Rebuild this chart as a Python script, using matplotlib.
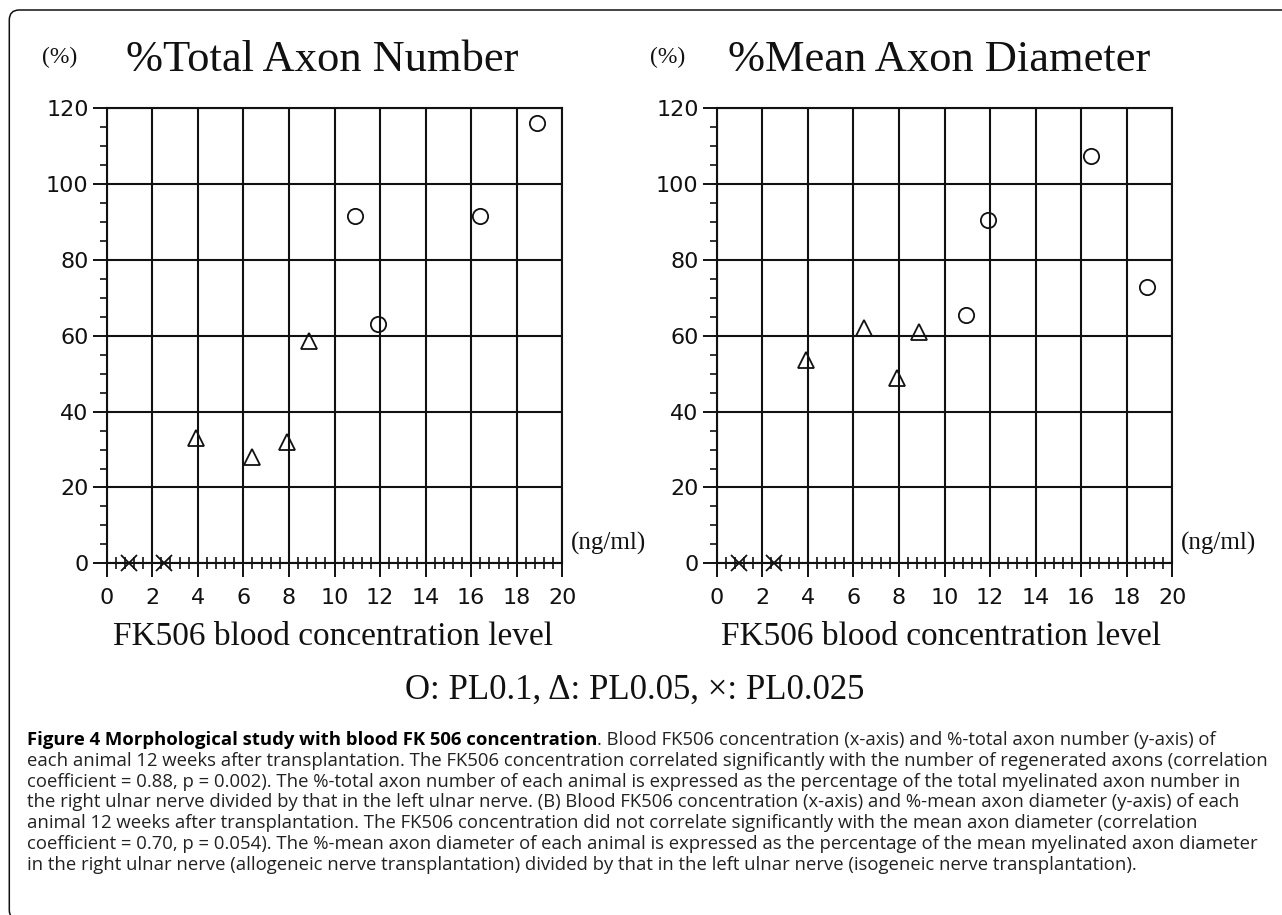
import matplotlib.pyplot as plt
from matplotlib.patches import FancyBboxPatch
from matplotlib.transforms import IdentityTransform
from matplotlib.ticker import MultipleLocator

plt.rcParams['font.family'] = ['DejaVu Sans']

# ---- data ----
# %Total Axon Number
num_pl01_x = [10.9, 11.9, 16.4, 18.9]
num_pl01_y = [91.5, 63.0, 91.5, 116.0]
num_pl005_x = [3.9, 6.4, 7.9, 8.9]
num_pl005_y = [33.0, 28.0, 32.0, 58.5]
num_pl0025_x = [1.0, 2.5]
num_pl0025_y = [0.0, 0.0]

# %Mean Axon Diameter
dia_pl01_x = [10.95, 11.9, 16.45, 18.9]
dia_pl01_y = [65.5, 90.5, 107.5, 73.0]
dia_pl005_x = [3.9, 6.45, 7.9, 8.9]
dia_pl005_y = [53.5, 62.0, 49.0, 61.0]
dia_pl0025_x = [1.0, 2.5]
dia_pl0025_y = [0.0, 0.0]

titles = ['%Total Axon Number', '%Mean Axon Diameter']
xlabel = 'FK506 blood concentration level'
legend_line = 'O: PL0.1, \u0394: PL0.05, \u00d7: PL0.025'

caption_bold = 'Figure 4 Morphological study with blood FK 506 concentration'
caption_lines = [
    '. Blood FK506 concentration (x-axis) and %-total axon number (y-axis) of',
    'each animal 12 weeks after transplantation. The FK506 concentration correlated significantly with the number of regenerated axons (correlation',
    'coefficient = 0.88, p = 0.002). The %-total axon number of each animal is expressed as the percentage of the total myelinated axon number in',
    'the right ulnar nerve divided by that in the left ulnar nerve. (B) Blood FK506 concentration (x-axis) and %-mean axon diameter (y-axis) of each',
    'animal 12 weeks after transplantation. The FK506 concentration did not correlate significantly with the mean axon diameter (correlation',
    'coefficient = 0.70, p = 0.054). The %-mean axon diameter of each animal is expressed as the percentage of the mean myelinated axon diameter',
    'in the right ulnar nerve (allogeneic nerve transplantation) divided by that in the left ulnar nerve (isogeneic nerve transplantation).',
]

W, H = 1282, 915
fig = plt.figure(figsize=(W / 100, H / 100), dpi=100)
ink = '#111111'
serif = 'Liberation Serif'


def fx(px):
    return px / W


def fy(py):
    return 1 - py / H


def panel(left_px, title, title_cx, pct_cx, ng_cx, xlab_cx, series):
    ax = fig.add_axes([fx(left_px), fy(563.3), 455.6 / W, 455 / H])
    ax.set_xlim(0, 20)
    ax.set_ylim(0, 120)
    ax.xaxis.set_major_locator(MultipleLocator(2))
    ax.xaxis.set_minor_locator(MultipleLocator(0.4))
    ax.yaxis.set_major_locator(MultipleLocator(20))
    ax.yaxis.set_minor_locator(MultipleLocator(5))
    ax.grid(True, which='major', color=ink, lw=1.5)
    ax.set_axisbelow(True)
    for s in ax.spines.values():
        s.set_color(ink)
        s.set_linewidth(1.5)
    ax.tick_params(axis='both', which='major', direction='out', length=10,
                   width=1.4, color=ink, labelsize=16, labelcolor=ink)
    ax.tick_params(axis='x', which='major', pad=8)
    ax.tick_params(axis='y', which='major', pad=3)
    ax.tick_params(axis='x', which='minor', direction='inout', length=8, width=1.2, color=ink)
    ax.tick_params(axis='y', which='minor', direction='out', length=5, width=1.2, color=ink)

    (cx, cy), (tx, ty), (xx, xy) = series
    ax.plot(cx, cy, ls='none', marker='o', ms=11, mfc='none', mec=ink, mew=1.3, zorder=3)
    ax.plot(tx, ty, ls='none', marker='^', ms=11, mfc='none', mec=ink, mew=1.3, zorder=3)
    ax.plot(xx, xy, ls='none', marker='x', ms=11, mec=ink, mew=1.3, zorder=3, clip_on=False)

    fig.text(fx(title_cx), fy(60), title, family=serif, fontsize=32, color=ink,
             ha='center', va='center')
    fig.text(fx(pct_cx), fy(57), '(%)', family=serif, fontsize=17, color=ink,
             ha='center', va='center')
    fig.text(fx(ng_cx), fy(543), '(ng/ml)', family=serif, fontsize=18, color=ink,
             ha='center', va='center')
    fig.text(fx(xlab_cx), fy(637), xlabel, family=serif, fontsize=24, color=ink,
             ha='center', va='center')
    return ax


panel(106.7, titles[0], 322, 60, 609, 333,
      [(num_pl01_x, num_pl01_y), (num_pl005_x, num_pl005_y), (num_pl0025_x, num_pl0025_y)])
panel(716.7, titles[1], 939, 668, 1218, 941,
      [(dia_pl01_x, dia_pl01_y), (dia_pl005_x, dia_pl005_y), (dia_pl0025_x, dia_pl0025_y)])

fig.text(fx(635), fy(690), legend_line, family=serif, fontsize=25, color=ink,
         ha='center', va='center')

# caption
cap_size = 13.3
t0 = fig.text(fx(27), fy(740), caption_bold, family='Open Sans', weight='bold',
              fontsize=cap_size, color='black', ha='left', va='center')
fig.add_artist(plt.Annotation(caption_lines[0], xy=(1, 0), xycoords=t0,
                              family='Open Sans', fontsize=cap_size, color='#222222',
                              ha='left', va='bottom'))
for i, line in enumerate(caption_lines[1:], start=1):
    fig.text(fx(27), fy(740 + 20.8 * i), line, family='Open Sans', fontsize=cap_size,
             color='#222222', ha='left', va='center')

# outer frame (rounded top-left corner, open at right and bottom)
frame = FancyBboxPatch((9.3, -5), 1320, 910, boxstyle='round,pad=0,rounding_size=10',
                       transform=IdentityTransform(), fill=False, ec=ink, lw=1.1)
fig.add_artist(frame)

fig.savefig('out.png', dpi=100)
